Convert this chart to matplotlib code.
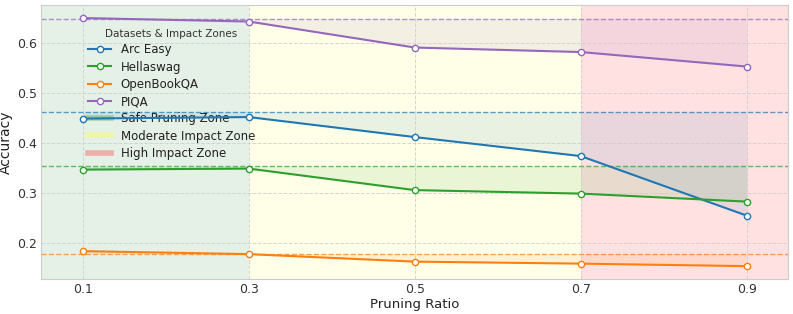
import matplotlib
matplotlib.use("Agg")
import matplotlib.pyplot as plt
from matplotlib.lines import Line2D

ratios = [0.1, 0.3, 0.5, 0.7, 0.9]
arc_easy = [0.449, 0.452, 0.412, 0.374, 0.255]
hellaswag = [0.347, 0.349, 0.306, 0.299, 0.283]
openbookqa = [0.184, 0.178, 0.163, 0.159, 0.154]
piqa = [0.650, 0.643, 0.591, 0.582, 0.553]
baselines = {"Arc Easy": 0.463, "Hellaswag": 0.354, "OpenBookQA": 0.179, "PIQA": 0.649}
series = {"Arc Easy": arc_easy, "Hellaswag": hellaswag, "OpenBookQA": openbookqa, "PIQA": piqa}
colors = {"Arc Easy": "#1f77b4", "Hellaswag": "#2ca02c", "OpenBookQA": "#ff7f0e", "PIQA": "#9467bd"}
zone_names = ["Safe Pruning Zone", "Moderate Impact Zone", "High Impact Zone"]

fig, ax = plt.subplots(figsize=(7.93, 3.14), dpi=100)

ax.axvspan(0.05, 0.3, color="#2e8b3a", alpha=0.12, lw=0)
ax.axvspan(0.3, 0.7, color="#ffff66", alpha=0.15, lw=0)
ax.axvspan(0.7, 0.95, color="#ff8888", alpha=0.25, lw=0)

handles = []
for name, vals in series.items():
    c = colors[name]
    h, = ax.plot(ratios, vals, color=c, lw=1.5, marker="o", ms=4.5,
                 markerfacecolor="white", markeredgecolor=c, markeredgewidth=1, label=name, zorder=6)
    handles.append(h)
    ax.axhline(baselines[name], color=c, ls="--", lw=1, alpha=0.7)
    ax.fill_between(ratios, vals, baselines[name], color=c, alpha=0.1, lw=0)

zh = [Line2D([], [], color="#2ca02c", lw=4, alpha=0.35),
      Line2D([], [], color="#ffff33", lw=4, alpha=0.35),
      Line2D([], [], color="#ff3333", lw=4, alpha=0.35)]
leg = ax.legend(handles + zh, list(series.keys()) + zone_names,
                title="Datasets & Impact Zones", loc="upper left", bbox_to_anchor=(0.048, 0.951),
                frameon=False, fontsize=8.5, title_fontsize=7.5, labelspacing=0.36)
leg.get_title().set_color("#333333")
for t in leg.get_texts():
    t.set_color("#222222")

ax.set_xlim(0.05, 0.95)
ax.set_ylim(0.128, 0.676)
ax.set_xticks(ratios)
ax.set_xticklabels(["0.1", "0.3", "0.5", "0.7", "0.9"])
ax.set_yticks([0.2, 0.3, 0.4, 0.5, 0.6])
ax.set_xlabel("Pruning Ratio", fontsize=9.5, labelpad=1, color="#222222")
ax.set_ylabel("Accuracy", fontsize=10, labelpad=3, color="#222222")
ax.grid(True, ls="--", color="#cccccc", lw=0.7, alpha=0.8)
ax.tick_params(length=0, labelsize=9, colors="#333333", pad=3)
for s in ax.spines.values():
    s.set_color("#cccccc")

fig.subplots_adjust(left=0.052, right=0.994, top=0.984, bottom=0.111)
fig.savefig("out.png", dpi=100)
